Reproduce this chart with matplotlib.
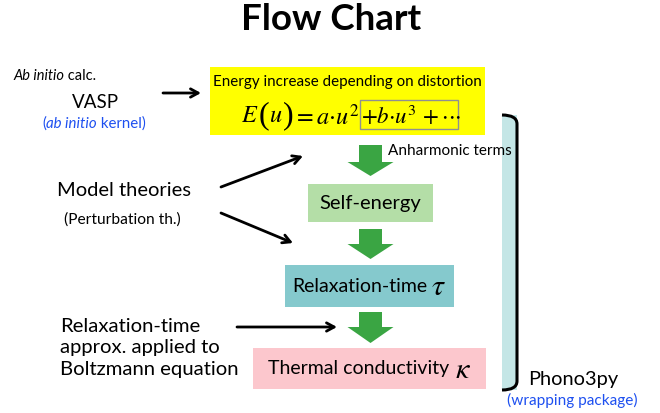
import matplotlib
matplotlib.use('Agg')
import matplotlib.pyplot as plt
from matplotlib.patches import Rectangle, FancyArrow, PathPatch
from matplotlib.path import Path

plt.rcParams['font.family'] = ['Lato', 'DejaVu Sans']
plt.rcParams['mathtext.fontset'] = 'stix'

# texts of the chart
title = 'Flow Chart'
energy_label = 'Energy increase depending on distortion'
steps = ['Self-energy', 'Relaxation-time', 'Thermal conductivity']
step_symbols = ['', r'$\,\tau$', r'$\;\kappa$']
step_colors = ['#b4dea7', '#85c9cd', '#fcc7cd']
inputs = ['Model theories', '(Perturbation th.)',
          'Relaxation-time\napprox. applied to\nBoltzmann equation']
package = ['Phono3py', '(wrapping package)']
blue = '#1e50f0'
green = '#3aa543'

fig = plt.figure(figsize=(6.6, 4.13), dpi=100)
ax = fig.add_axes([0, 0, 1, 1])
ax.set_xlim(0, 660)
ax.set_ylim(413, 0)
ax.axis('off')
renderer = fig.canvas.get_renderer()


def seq(x, y, parts, **kw):
    # draw text pieces one after the other, return the width used
    start = x
    for s, extra in parts:
        props = dict(kw)
        props.update(extra)
        t = ax.text(x, y, s, ha='left', va='center', **props)
        x += t.get_window_extent(renderer).width
    return x - start


def centered(xc, y, parts, **kw):
    # measure, remove, then draw centered
    tmp = [ax.text(0, 0, s, **{**kw, **e}) for s, e in parts]
    w = sum(t.get_window_extent(renderer).width for t in tmp)
    for t in tmp:
        t.remove()
    seq(xc - w / 2, y, parts, **kw)


ax.text(331, 20, title, ha='center', va='center', fontsize=26.5, fontweight='bold')

# ab initio part
seq(13, 76, [('Ab initio', {'style': 'italic'}), (' calc.', {})], fontsize=10.5)
ax.text(95, 102, 'VASP', ha='center', va='center', fontsize=13.5)
centered(94, 124, [('(', {}), ('ab initio', {'style': 'italic'}), (' kernel)', {})],
         fontsize=10.8, color=blue)

arrow = dict(arrowstyle='->,head_length=0.55,head_width=0.3', lw=2, color='black',
             shrinkA=0, shrinkB=0)
ax.annotate('', xy=(201, 93), xytext=(163, 93), arrowprops=arrow)

# energy box
ax.add_patch(Rectangle((210, 67), 275, 68, color='#ffff00', lw=0))
ax.text(347, 82, energy_label, ha='center', va='center', fontsize=10.9)
big = {'fontsize': 23, 'fontfamily': 'Liberation Serif'}
seq(241, 116, [(r'$E$', {}), ('(', big), (r'$u$', {}), (')', big),
               (r'$=a{\cdot}u^2$', {})], fontsize=17.5)
seq(361, 116, [(r'$+b{\cdot}u^3\,+{\cdot}{\cdot}{\cdot}$', {})], fontsize=16.5)
ax.add_patch(Rectangle((360, 100), 98, 29, fill=False, ec='#909090', lw=1))

# steps
boxes = [(308, 184, 125, 38), (285, 265, 169, 42), (253, 348, 233, 41)]
sizes = [14.5, 14, 14]
for (x, y, w, h), lab, sym, c, fs in zip(boxes, steps, step_symbols, step_colors, sizes):
    ax.add_patch(Rectangle((x, y), w, h, color=c, lw=0))
    parts = [(lab, {})]
    if sym:
        parts.append((sym, {'fontsize': fs * 1.55}))
    centered(x + w / 2, y + h / 2, parts, fontsize=fs)

for y0, y1, hl in [(145, 176, 14), (229, 259, 15), (312, 343, 16)]:
    ax.add_patch(FancyArrow(370.5, y0, 0, y1 - y0, width=23, head_width=46,
                            head_length=hl, length_includes_head=True,
                            color=green, lw=0))
ax.text(388, 151, 'Anharmonic terms', ha='left', va='center', fontsize=11)

# model theories
ax.text(124, 190, inputs[0], ha='center', va='center', fontsize=14.5)
ax.text(122, 220, inputs[1], ha='center', va='center', fontsize=11.2)
ax.annotate('', xy=(303, 156), xytext=(221, 187), arrowprops=arrow)
ax.annotate('', xy=(293, 243), xytext=(221, 213), arrowprops=arrow)

ax.text(60, 348, inputs[2], ha='left', va='center', fontsize=14.6, linespacing=1.3)
ax.annotate('', xy=(337, 327), xytext=(237, 327), arrowprops=arrow)

# bracket
ax.add_patch(Rectangle((502, 115), 15, 275, color='#c4e6e6', lw=0))
verts = [(502, 115), (517, 115), (517, 124), (517, 381), (517, 390), (502, 390)]
codes = [Path.MOVETO, Path.CURVE3, Path.CURVE3, Path.LINETO, Path.CURVE3, Path.CURVE3]
ax.add_patch(PathPatch(Path(verts, codes), fill=False, lw=2.2, ec='black'))

ax.text(528, 380, package[0], ha='left', va='center', fontsize=14.4)
ax.text(572, 400, package[1], ha='center', va='center', fontsize=11.1, color=blue)

fig.savefig('out.png', dpi=100)
